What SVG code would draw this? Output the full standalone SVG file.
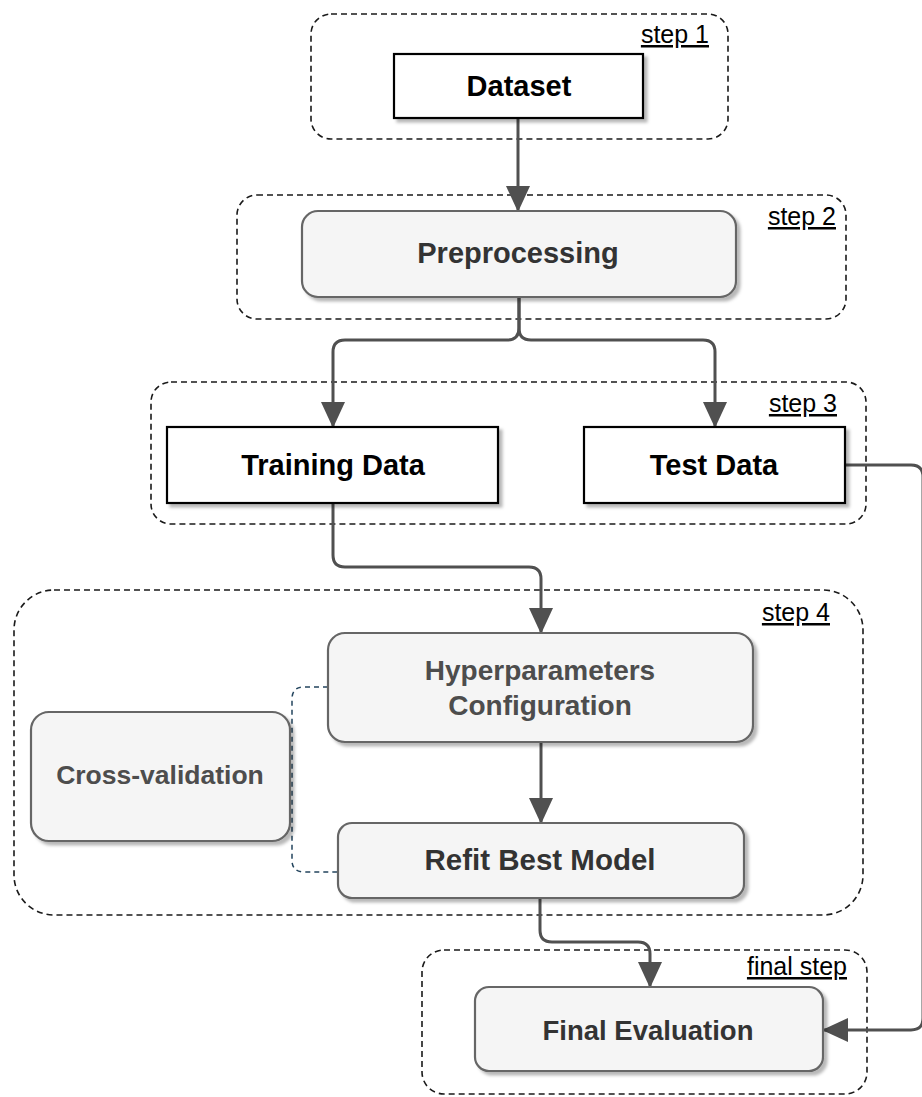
<svg xmlns="http://www.w3.org/2000/svg" width="922" height="1097" viewBox="0 0 922 1097">
<defs>
<style>
.grp{fill:none;stroke:#1a1a1a;stroke-width:1.6;stroke-dasharray:6 4}
.sq{fill:#ffffff;stroke:#000000;stroke-width:2.2}
.rd{fill:#f5f5f5;stroke:#666666;stroke-width:2.2}
.lbl{font-family:"Liberation Sans",Arial,sans-serif;font-weight:bold;text-anchor:middle}
.step{font-family:"Liberation Sans",Arial,sans-serif;font-size:25px;text-anchor:end;text-decoration:underline;fill:#000}
.con{fill:none;stroke:#505050;stroke-width:3}
.dash{fill:none;stroke:#23445d;stroke-width:1.5;stroke-dasharray:5 4}
</style>
<filter id="sh" x="-10%" y="-10%" width="130%" height="140%">
<feDropShadow dx="3.5" dy="3.5" stdDeviation="1.5" flood-color="#000" flood-opacity="0.28"/>
</filter>
<marker id="arr" viewBox="0 0 26 24" refX="25" refY="12" markerWidth="26" markerHeight="24" markerUnits="userSpaceOnUse" orient="auto">
<path d="M0,0 L26,12 L0,24 Z" fill="#505050"/>
</marker>
</defs>

<g id="step1">
<rect class="grp" x="311" y="14" width="417" height="125" rx="20"/>
<text class="step" x="709" y="43">step 1</text>
</g>
<g id="step2">
<rect class="grp" x="237" y="195" width="609" height="124" rx="20"/>
<text class="step" x="836" y="225">step 2</text>
</g>
<g id="step3">
<rect class="grp" x="151" y="382" width="715" height="142" rx="20"/>
<text class="step" x="837" y="412">step 3</text>
</g>
<g id="step4">
<rect class="grp" x="14" y="590" width="849" height="325" rx="40"/>
<text class="step" x="830" y="621">step 4</text>
</g>
<g id="finalstep">
<rect class="grp" x="422" y="950" width="445" height="144" rx="22"/>
<text class="step" x="847" y="975">final step</text>
</g>

<g id="connectors">
<path class="con" d="M518,119 L518,211" marker-end="url(#arr)"/>
<path class="con" d="M519,297 L519,328 Q519,340 507,340 L345,340 Q333,340 333,352 L333,427" marker-end="url(#arr)"/>
<path class="con" d="M519,297 L519,328 Q519,340 531,340 L703,340 Q715,340 715,352 L715,427" marker-end="url(#arr)"/>
<path class="con" d="M333,503 L333,555 Q333,567 345,567 L529,567 Q541,567 541,579 L541,633" marker-end="url(#arr)"/>
<path class="con" d="M541,742 L541,823" marker-end="url(#arr)"/>
<path class="con" d="M540,898 L540,930 Q540,942 552,942 L638,942 Q650,942 650,954 L650,987" marker-end="url(#arr)"/>
<path class="con" d="M845,465 L911,465 Q923,465 923,477 L923,1018 Q923,1030 911,1030 L823,1030" marker-end="url(#arr)"/>
<path class="dash" d="M328,687 L304,687 Q292,687 292,699 L292,860 Q292,872 304,872 L338,872"/>
</g>

<g id="dataset">
<rect class="sq" x="394" y="54" width="249" height="64" filter="url(#sh)"/>
<text class="lbl" x="519" y="96" font-size="29" fill="#000">Dataset</text>
</g>
<g id="preprocessing">
<rect class="rd" x="302" y="211" width="434" height="86" rx="16" filter="url(#sh)"/>
<text class="lbl" x="518" y="263" font-size="29" fill="#333">Preprocessing</text>
</g>
<g id="training">
<rect class="sq" x="167" y="427" width="331" height="76" filter="url(#sh)"/>
<text class="lbl" x="333" y="475" font-size="29" fill="#000">Training Data</text>
</g>
<g id="test">
<rect class="sq" x="584" y="427" width="261" height="76" filter="url(#sh)"/>
<text class="lbl" x="714" y="475" font-size="29" fill="#000">Test Data</text>
</g>
<g id="hyper">
<rect class="rd" x="328" y="633" width="425" height="109" rx="17" filter="url(#sh)"/>
<text class="lbl" x="540" y="680" font-size="28" fill="#4d4d4d">Hyperparameters</text>
<text class="lbl" x="540" y="715" font-size="28" fill="#4d4d4d">Configuration</text>
</g>
<g id="crossval">
<rect class="rd" x="31" y="712" width="259" height="129" rx="18" filter="url(#sh)"/>
<text class="lbl" x="160" y="784" font-size="26.5" fill="#4d4d4d">Cross-validation</text>
</g>
<g id="refit">
<rect class="rd" x="338" y="823" width="406" height="75" rx="14" filter="url(#sh)"/>
<text class="lbl" x="540" y="870" font-size="29.5" fill="#333">Refit Best Model</text>
</g>
<g id="final">
<rect class="rd" x="475" y="987" width="348" height="84" rx="14" filter="url(#sh)"/>
<text class="lbl" x="648" y="1040" font-size="27.5" fill="#333">Final Evaluation</text>
</g>
</svg>
